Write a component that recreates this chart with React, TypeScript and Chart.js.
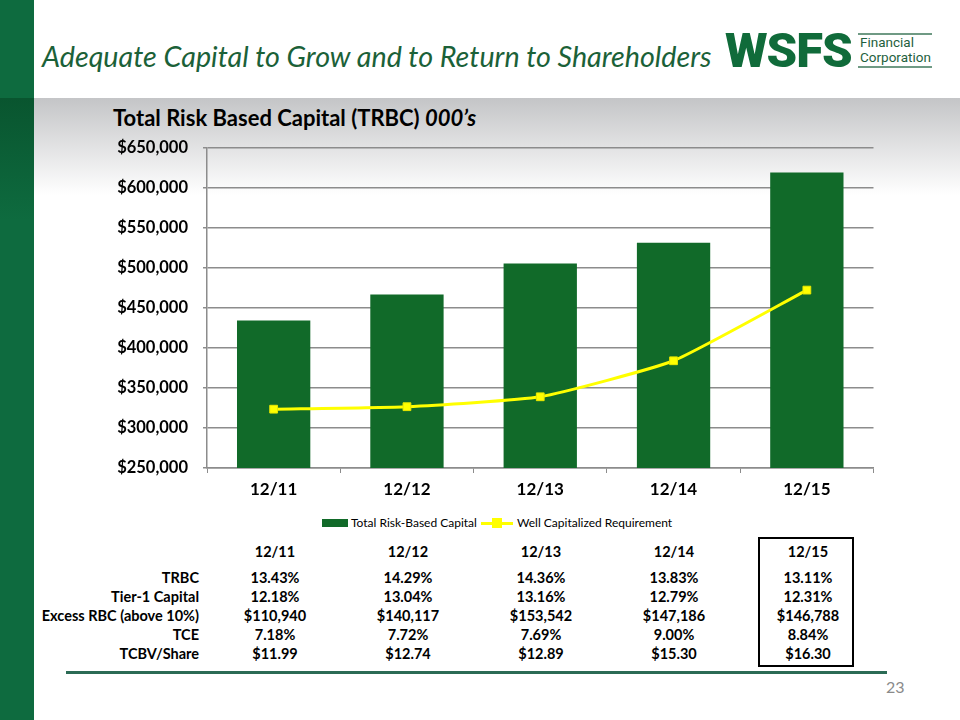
import React, { useEffect, useRef } from "react";
import { Chart, registerables } from "chart.js";

Chart.register(...registerables);

const categories = ["12/11", "12/12", "12/13", "12/14", "12/15"];
const trbcValues = [434400, 466800, 505700, 531500, 619300];
const wellCapValues = [323500, 326600, 339000, 384000, 472300];
const yMin = 250000;
const yMax = 650000;
const yStep = 50000;

const rowLabels = ["TRBC", "Tier-1 Capital", "Excess RBC (above 10%)", "TCE", "TCBV/Share"];
const trbcRatio = ["13.43%", "14.29%", "14.36%", "13.83%", "13.11%"];
const tier1Ratio = ["12.18%", "13.04%", "13.16%", "12.79%", "12.31%"];
const excessRbc = ["$110,940", "$140,117", "$153,542", "$147,186", "$146,788"];
const tceRatio = ["7.18%", "7.72%", "7.69%", "9.00%", "8.84%"];
const tcbvShare = ["$11.99", "$12.74", "$12.89", "$15.30", "$16.30"];
const tableRows = [trbcRatio, tier1Ratio, excessRbc, tceRatio, tcbvShare];

const FONT = "Lato, 'Open Sans', sans-serif";
const BAR_GREEN = "#116a29";
const colCenters = [275, 408, 541, 674, 808];
const rowYs = [578, 597, 616, 635, 654];

export default function App() {
  const canvasRef = useRef<HTMLCanvasElement | null>(null);

  useEffect(() => {
    document.body.style.margin = "0";
    const ctx = canvasRef.current;
    if (!ctx) return;
    const chart = new Chart(ctx, {
      type: "bar",
      data: {
        labels: categories,
        datasets: [
          {
            type: "line",
            label: "Well Capitalized Requirement",
            data: wellCapValues,
            borderColor: "#ffff00",
            backgroundColor: "#ffff00",
            borderWidth: 3,
            pointStyle: "rect",
            pointRadius: 5.5,
            pointBackgroundColor: "#ffff00",
            pointBorderColor: "#e8e800",
            pointBorderWidth: 1,
            tension: 0.15,
            order: 1,
          } as any,
          {
            type: "bar",
            label: "Total Risk-Based Capital",
            data: trbcValues,
            backgroundColor: BAR_GREEN,
            borderWidth: 0,
            barPercentage: 0.55,
            categoryPercentage: 1,
            order: 2,
          },
        ],
      },
      options: {
        animation: false,
        responsive: false,
        maintainAspectRatio: false,
        layout: { padding: { top: 6, right: 5, left: 0, bottom: 0 } },
        plugins: {
          legend: { display: false },
          tooltip: { enabled: false },
        },
        scales: {
          x: {
            offset: true,
            grid: {
              display: true,
              drawOnChartArea: false,
              drawTicks: true,
              tickLength: 5,
              color: "#8c8c8c",
              offset: true,
            },
            border: { display: true, color: "#8c8c8c", width: 1.5 },
            ticks: {
              color: "#000",
              font: { family: FONT, weight: "bold", size: 17 },
              padding: 6,
            },
            afterFit: (s: any) => {
              s.height = 40;
            },
          },
          y: {
            min: yMin,
            max: yMax,
            ticks: {
              stepSize: yStep,
              color: "#000",
              font: { family: FONT, weight: "bold", size: 16.5 },
              padding: 15,
              callback: (v: any) => "$" + Number(v).toLocaleString("en-US"),
            },
            grid: {
              color: "#8c8c8c",
              lineWidth: 1.5,
              drawTicks: true,
              tickLength: 4,
            },
            border: { display: true, color: "#8c8c8c", width: 1.5 },
            afterFit: (s: any) => {
              s.width = 107;
            },
          },
        },
      } as any,
    });
    return () => chart.destroy();
  }, []);

  const abs = (style: React.CSSProperties): React.CSSProperties => ({ position: "absolute", ...style });

  return (
    <div
      style={{
        position: "absolute",
        left: 0,
        top: 0,
        width: 960,
        height: 720,
        overflow: "hidden",
        background: "linear-gradient(to bottom, #ffffff 0px, #ffffff 98px, #c4c5c7 98px, #ffffff 195px, #ffffff 720px)",
        fontFamily: FONT,
      }}
    >
      {/* left green bar */}
      <div
        style={abs({
          left: 0,
          top: 0,
          width: 34,
          height: 720,
          background: "linear-gradient(to bottom, #0e6b3f 0px, #0e6b3f 98px, #09552f 98px, #0e6b3f 220px, #0e6b3f 720px)",
        })}
      />
      {/* title */}
      <div
        style={abs({
          left: 42,
          top: 39,
          fontStyle: "italic",
          fontSize: 28.7,
          color: "#1b6138",
          whiteSpace: "nowrap",
          lineHeight: "34px",
        })}
      >
        Adequate Capital to Grow and to Return to Shareholders
      </div>
      {/* logo */}
      <div
        style={abs({
          left: 725,
          top: 25,
          fontFamily: "Roboto, sans-serif",
          fontWeight: 900,
          fontSize: 49,
          color: "#106b3a",
          lineHeight: "52px",
          letterSpacing: -1,
          whiteSpace: "nowrap",
        })}
      >
        WSFS
      </div>
      <div style={abs({ left: 858, top: 33, width: 74, height: 1.5, background: "#6f9a84" })} />
      <div style={abs({ left: 858, top: 66, width: 74, height: 1.5, background: "#6f9a84" })} />
      <div
        style={abs({
          left: 860,
          top: 35,
          fontFamily: "Roboto, sans-serif",
          fontSize: 13.5,
          lineHeight: "14.5px",
          color: "#1f5f3e",
          whiteSpace: "nowrap",
        })}
      >
        Financial
        <br />
        Corporation
      </div>
      {/* chart title */}
      <div
        style={abs({
          left: 113,
          top: 104,
          fontWeight: "bold",
          fontSize: 22,
          lineHeight: "28px",
          color: "#000",
          whiteSpace: "nowrap",
        })}
      >
        Total Risk Based Capital (TRBC) <i>000’s</i>
      </div>
      {/* chart */}
      <canvas
        ref={canvasRef}
        width={780}
        height={385}
        style={abs({ left: 100, top: 123, width: 780, height: 385 })}
      />
      {/* legend */}
      <div style={abs({ left: 322, top: 519, width: 26, height: 8, background: BAR_GREEN })} />
      <div style={abs({ left: 351, top: 515, fontSize: 12, lineHeight: "16px", color: "#000", whiteSpace: "nowrap" })}>
        Total Risk-Based Capital
      </div>
      <div style={abs({ left: 481, top: 522, width: 32, height: 3, background: "#ffff00" })} />
      <div style={abs({ left: 492, top: 518, width: 10, height: 10, background: "#ffff00" })} />
      <div style={abs({ left: 517, top: 515, fontSize: 12, lineHeight: "16px", color: "#000", whiteSpace: "nowrap" })}>
        Well Capitalized Requirement
      </div>
      {/* table */}
      {categories.map((c, i) => (
        <div
          key={"h" + c}
          style={abs({
            left: colCenters[i] - 60,
            top: 543,
            width: 120,
            textAlign: "center",
            fontWeight: "bold",
            fontSize: 14.5,
            lineHeight: "18px",
            color: "#000",
          })}
        >
          {c}
        </div>
      ))}
      {rowLabels.map((r, ri) => (
        <React.Fragment key={r}>
          <div
            style={abs({
              left: 0,
              top: rowYs[ri] - 9,
              width: 199,
              textAlign: "right",
              fontWeight: "bold",
              fontSize: 14.5,
              lineHeight: "18px",
              color: "#000",
              whiteSpace: "nowrap",
            })}
          >
            {r}
          </div>
          {tableRows[ri].map((v, ci) => (
            <div
              key={r + ci}
              style={abs({
                left: colCenters[ci] - 60,
                top: rowYs[ri] - 9,
                width: 120,
                textAlign: "center",
                fontWeight: "bold",
                fontSize: 14.5,
                lineHeight: "18px",
                color: "#000",
              })}
            >
              {v}
            </div>
          ))}
        </React.Fragment>
      ))}
      <div
        style={abs({
          left: 758,
          top: 537,
          width: 96,
          height: 130,
          border: "2px solid #000",
          boxSizing: "border-box",
        })}
      />
      {/* bottom rule */}
      <div style={abs({ left: 66, top: 671, width: 821, height: 3, background: "#2b6b55" })} />
      <div style={abs({ left: 886, top: 677, fontSize: 16, lineHeight: "20px", color: "#8a8a8a" })}>23</div>
    </div>
  );
}
